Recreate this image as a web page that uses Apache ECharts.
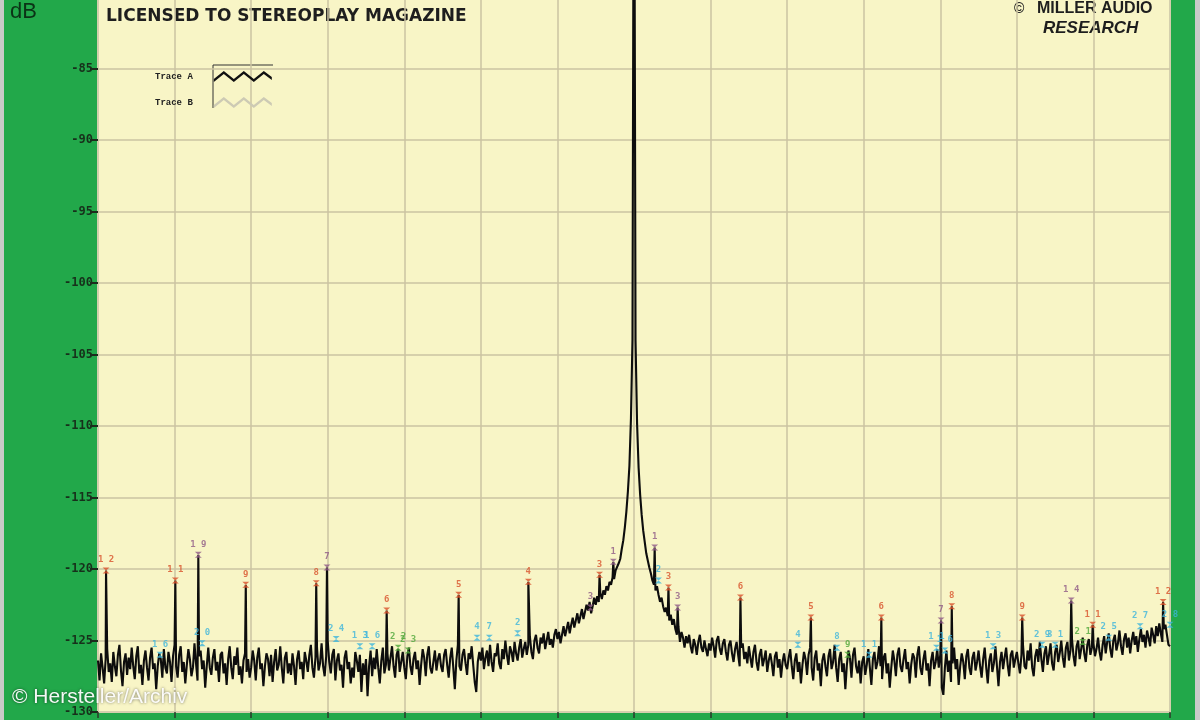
<!DOCTYPE html>
<html>
<head>
<meta charset="utf-8">
<style>
html,body{margin:0;padding:0;background:#c8cac8;}
#chart{width:1200px;height:720px;}
</style>
<script src="https://cdn.jsdelivr.net/npm/echarts@6/dist/echarts.min.js"></script>
</head>
<body>
<div id="chart"></div>
<script>
// ---- data ----
const STEP = 0.02; // spacing of trace samples along the x axis (axis units)
const noise = [
// 0.00 - 0.98
-126.4,-127.8,-125.9,-126.9,-128.0,-126.3,-125.6,-127.2,-126.6,-127.9,-125.8,-126.8,-127.5,-126.0,-125.3,-127.1,-128.2,-126.5,-125.9,-127.4,-126.2,-127.0,-125.5,-126.8,-127.7,
-126.1,-125.4,-127.3,-126.7,-128.1,-126.4,-125.7,-126.9,-127.8,-126.2,-125.5,-127.0,-126.6,-128.4,-126.8,-125.9,-126.3,-127.6,-125.6,-126.9,-127.3,-125.8,-126.5,-127.9,-126.1,
// 1.00 - 1.98
-125.3,-126.8,-127.6,-126.0,-125.4,-127.2,-126.5,-128.0,-126.7,-125.6,-126.3,-127.5,-126.9,-125.2,-126.6,-127.8,-126.1,-125.7,-127.0,-126.4,-128.3,-126.8,-125.5,-126.9,-127.4,
-126.2,-125.6,-127.1,-126.5,-127.9,-126.0,-125.8,-127.3,-126.6,-128.1,-126.3,-125.4,-126.9,-127.7,-126.1,-126.7,-125.5,-127.4,-126.8,-128.0,-126.4,-125.9,-127.2,-126.3,-127.6,
// 2.00 - 2.98
-126.9,-125.7,-126.4,-127.8,-126.2,-125.5,-127.0,-126.6,-128.2,-126.8,-125.9,-126.3,-127.5,-126.0,-127.9,-126.5,-125.6,-127.1,-126.7,-125.4,-126.9,-128.0,-126.2,-125.8,-127.3,
-126.6,-127.4,-125.9,-126.8,-128.1,-126.3,-125.7,-127.0,-126.5,-127.7,-125.8,-126.4,-127.2,-126.0,-125.3,-126.9,-127.6,-126.2,-125.5,-127.1,-126.6,-125.2,-126.8,-127.5,-126.1,
// 3.00 - 3.98
-125.0,-126.5,-127.3,-126.0,-125.6,-127.8,-126.4,-125.9,-127.1,-126.7,-128.3,-126.2,-125.7,-127.0,-126.5,-128.0,-126.9,-127.6,-125.8,-126.4,-127.2,-126.0,-128.6,-126.6,-127.4,
-126.3,-128.9,-126.8,-125.7,-127.5,-126.2,-127.0,-125.6,-126.9,-128.0,-126.4,-125.5,-127.3,-126.7,-125.9,-127.1,-126.2,-125.4,-126.8,-127.6,-126.0,-125.6,-127.2,-126.5,-125.8,
// 4.00 - 4.98
-126.9,-127.7,-126.1,-125.5,-126.8,-127.4,-126.3,-125.8,-127.0,-126.4,-128.1,-126.7,-125.6,-126.2,-127.5,-126.0,-125.4,-126.9,-127.3,-126.5,-125.7,-127.1,-126.3,-125.9,-126.8,
-127.2,-126.0,-125.6,-126.7,-127.6,-126.2,-125.5,-126.9,-128.4,-126.4,-125.3,-126.8,-127.1,-126.0,-125.6,-126.6,-127.4,-125.9,-126.3,-125.4,-126.7,-127.9,-128.6,-126.5,-125.8,
// 5.00 - 5.98
-126.4,-125.5,-127.0,-126.2,-125.7,-126.8,-125.3,-126.5,-127.2,-125.9,-126.1,-125.2,-126.6,-127.0,-125.6,-126.3,-125.0,-126.0,-126.7,-125.4,-125.8,-126.5,-125.1,-125.9,-126.4,
-125.5,-124.9,-126.2,-125.6,-125.1,-126.0,-125.3,-124.7,-125.8,-126.3,-125.0,-124.6,-125.5,-125.9,-124.8,-125.2,-124.5,-125.6,-125.0,-124.4,-125.3,-124.9,-125.5,-124.6,-124.2,
// 6.00 - 6.98
-124.9,-124.4,-125.2,-124.6,-124.0,-124.7,-124.2,-123.7,-124.5,-123.9,-123.4,-124.1,-123.6,-123.1,-123.8,-123.3,-122.8,-123.5,-123.0,-122.5,-122.9,-122.3,-123.1,-122.6,-122.0,
-122.5,-121.9,-122.3,-121.7,-122.1,-121.5,-121.8,-121.2,-121.5,-120.9,-121.1,-120.6,-120.7,-120.1,-120.2,-119.6,-119.3,-118.6,-118.0,-117.1,-116.0,-114.6,-112.8,-109.5,-104.0,
// 7.00 - 7.98
-60.0,-104.0,-109.8,-112.9,-114.8,-116.2,-117.3,-118.1,-118.9,-119.4,-119.9,-120.3,-120.8,-121.1,-121.5,-121.2,-121.8,-122.3,-122.0,-122.6,-123.0,-122.7,-123.3,-123.6,-123.2,
-123.9,-123.5,-124.2,-124.6,-124.0,-125.1,-124.4,-124.8,-125.5,-124.7,-125.2,-124.6,-125.4,-125.9,-124.9,-125.3,-126.0,-125.1,-124.6,-125.5,-125.8,-125.0,-125.6,-126.1,-125.2,
// 8.00 - 8.98
-125.7,-124.8,-125.4,-126.2,-125.0,-124.7,-125.6,-126.0,-125.2,-124.9,-125.8,-126.4,-125.3,-125.0,-125.9,-126.5,-125.6,-125.1,-126.0,-126.8,-125.5,-125.2,-126.3,-125.8,-126.6,
-125.4,-126.2,-126.9,-125.8,-125.3,-126.5,-127.1,-126.0,-125.6,-126.8,-126.3,-125.7,-127.2,-126.4,-125.9,-126.6,-127.5,-126.1,-125.8,-126.9,-126.3,-127.6,-126.5,-125.9,-126.7,
// 9.00 - 9.98
-127.0,-126.2,-125.6,-126.8,-127.7,-126.4,-125.9,-127.2,-126.5,-128.0,-126.7,-125.8,-126.3,-127.4,-126.0,-125.5,-126.9,-127.8,-126.2,-125.7,-127.1,-126.6,-128.2,-126.4,-125.9,
-126.8,-127.5,-126.1,-125.6,-127.0,-126.5,-125.3,-126.9,-127.9,-126.3,-125.8,-127.2,-126.6,-128.4,-126.7,-125.7,-126.2,-127.6,-126.0,-125.5,-126.8,-127.3,-126.4,-128.0,-126.5,
// 10.00 - 10.98
-126.1,-127.4,-126.7,-125.6,-126.9,-128.1,-126.3,-125.8,-127.0,-126.5,-125.4,-126.8,-127.7,-126.2,-125.9,-127.3,-126.6,-128.3,-126.9,-125.7,-126.4,-127.5,-126.0,-125.5,-126.8,
-127.2,-126.3,-125.6,-127.0,-126.5,-128.0,-126.7,-125.9,-126.2,-127.6,-126.0,-125.4,-126.9,-127.4,-126.3,-125.7,-127.1,-126.6,-128.2,-126.4,-125.8,-127.0,-126.5,-125.6,-126.9,
// 11.00 - 11.98
-126.0,-128.3,-128.8,-126.9,-125.7,-127.2,-126.4,-127.9,-126.6,-125.5,-127.0,-126.3,-128.1,-126.8,-125.9,-126.5,-127.7,-126.1,-125.6,-126.9,-127.4,-126.2,-125.8,-127.1,-126.5,
-125.7,-126.8,-127.6,-126.3,-125.5,-126.9,-128.0,-126.4,-125.9,-127.2,-126.6,-125.4,-126.8,-128.2,-126.5,-125.8,-127.0,-126.2,-125.5,-126.7,-127.5,-126.0,-125.7,-126.9,-126.3,
// 12.00 - 12.98
-125.8,-126.6,-127.3,-126.0,-125.3,-126.8,-127.0,-125.7,-126.4,-125.2,-126.9,-127.5,-126.1,-125.6,-126.5,-125.1,-126.3,-127.2,-125.9,-125.4,-126.7,-126.0,-125.2,-126.6,-127.1,
-125.8,-125.3,-126.5,-125.9,-125.0,-126.2,-126.9,-125.5,-125.1,-126.4,-125.7,-124.9,-126.1,-126.8,-125.4,-125.0,-126.3,-125.6,-124.8,-125.9,-126.5,-125.3,-124.9,-126.0,-125.5,
// 13.00 - 13.98
-125.2,-126.1,-125.6,-124.8,-125.8,-126.4,-125.3,-124.7,-125.9,-125.1,-124.5,-125.6,-126.2,-125.0,-124.6,-125.7,-125.2,-124.3,-125.4,-126.0,-124.9,-124.5,-125.5,-124.8,-125.9,
-125.0,-124.4,-125.3,-124.7,-125.8,-124.9,-124.2,-125.1,-124.6,-125.5,-124.3,-124.8,-125.4,-124.1,-124.6,-125.2,-124.0,-124.7,-123.8,-124.5,-125.1,-124.2,-123.9,-124.6,-125.3,
// 14.00
-125.4
];

// discrete spurs (position in axis units, level in dB)
const spurX = [0.105, 1.01, 1.31, 1.93, 2.85, 2.99, 3.77, 4.71, 5.62, 6.43, 6.55, 6.73, 7.27, 7.45, 7.57, 8.39, 9.31, 10.23, 11.01, 11.15, 12.07, 12.71, 12.99, 13.91];
const spurY = [-120.1, -120.8, -119.0, -121.1, -121.0, -119.9, -122.9, -121.8, -120.9, -122.7, -120.4, -119.5, -118.5, -121.3, -122.7, -122.0, -123.4, -123.4, -123.6, -122.6, -123.4, -122.2, -123.9, -122.3];

// harmonic / intermod markers
const markX    = [0.105, 1.01, 1.93, 2.85, 3.77, 4.71, 5.62, 6.55, 7.45, 8.39, 9.31, 10.23, 11.15, 12.07, 12.99, 13.91,
                  1.31, 2.99, 6.43, 6.73, 7.27, 7.57, 11.01, 12.71,
                  0.81, 1.36, 3.11, 3.42, 3.58, 4.95, 5.11, 5.48, 7.32, 9.14, 9.65, 10.07, 10.95, 11.06, 11.69, 12.33, 12.50, 13.20, 13.61, 14.0,
                  3.92, 4.05, 9.79, 12.86];
const markY    = [-120.1, -120.8, -121.1, -121.0, -122.9, -121.8, -120.9, -120.4, -121.3, -122.0, -123.4, -123.4, -122.6, -123.4, -123.9, -122.3,
                  -119.0, -119.9, -122.7, -119.5, -118.5, -122.7, -123.6, -122.2,
                  -126.0, -125.2, -124.9, -125.4, -125.4, -124.8, -124.8, -124.5, -120.8, -125.3, -125.5, -126.0, -125.5, -125.7, -125.4, -125.3, -125.3, -124.8, -124.0, -123.9,
                  -125.5, -125.7, -126.0, -125.1];
const markText = ["12","11","9","8","6","5","4","3","3","6","5","6","8","9","11","12",
                  "19","7","3","1","1","3","7","14",
                  "16","20","24","13","16","4","7","2","2","4","8","11","11","16","13","29","31","25","27","28",
                  "22","23","9","21"];
const markKind = ["r","r","r","r","r","r","r","r","r","r","r","r","r","r","r","r",
                  "p","p","p","p","p","p","p","p",
                  "c","c","c","c","c","c","c","c","c","c","c","c","c","c","c","c","c","c","c","c",
                  "g","g","g","g"];

// ---- build ----
const kindColor = {r:'#d8512b', p:'#8e5a86', c:'#3db5dc', g:'#4fa83a'};
const trace = noise.map((v, i) => [+(i * STEP).toFixed(2), v]);
spurX.forEach((x, i) => trace.push([x, spurY[i]]));
trace.sort((a, b) => a[0] - b[0]);

const markers = markX.map((x, i) => ({
  value: [x, markY[i]],
  itemStyle: {color: kindColor[markKind[i]]},
  label: {color: kindColor[markKind[i]], formatter: markText[i].split('').join(' ')}
}));

const chart = echarts.init(document.getElementById('chart'), null, {renderer: 'canvas'});
chart.setOption({
  animation: false,
  backgroundColor: '#22a84a',
  grid: {
    left: 98, right: 30, top: -3, bottom: 8,
    containLabel: false, outerBoundsMode: 'none',
    show: true, backgroundColor: '#f8f5c6', borderColor: '#eef3cf', borderWidth: 2
  },
  legend: {
    data: ['Trace A', 'Trace B'],
    orient: 'vertical', left: 150, top: 66, align: 'right',
    itemWidth: 58, itemHeight: 11, itemGap: 15,
    icon: 'path://M0,9 L10,1 L20,9 L30,1 L40,9 L50,1 L58,7 L58,10 L50,4 L40,12 L30,4 L20,12 L10,4 L0,12 Z',
    textStyle: {fontFamily: 'Liberation Mono', fontWeight: 'bold', fontSize: 9, color: '#222', padding: [0, 16, 0, 0]}
  },
  xAxis: {
    type: 'value', min: 0, max: 14, interval: 1,
    axisLine: {show: false},
    axisTick: {show: true, length: 6, lineStyle: {color: '#2a3a2a', width: 1.5}},
    axisLabel: {show: false},
    splitLine: {show: true, lineStyle: {color: '#cbc3a2', width: 1.5}}
  },
  yAxis: {
    type: 'value', min: -130, max: -80, interval: 5,
    axisLine: {show: false},
    axisTick: {show: true, length: 8, lineStyle: {color: '#1d2a1d', width: 2}},
    axisLabel: {margin: 5, fontFamily: 'DejaVu Sans Mono', fontWeight: 'bold', fontSize: 12, color: '#17301b'},
    splitLine: {show: true, lineStyle: {color: '#cbc3a2', width: 1.5}}
  },
  graphic: [
    {type: 'rect', left: 0, top: 0, shape: {width: 4, height: 720}, style: {fill: '#c8cac8'}, silent: true},
    {type: 'rect', right: 0, top: 0, shape: {width: 5, height: 720}, style: {fill: '#c8cac8'}, silent: true},
    {type: 'text', left: 10, top: 1, style: {text: 'dB', font: '22px "Liberation Sans"', fill: '#0b3316'}},
    {type: 'text', left: 106, top: 8, style: {text: 'LICENSED TO STEREOPLAY MAGAZINE', font: 'bold 17px "DejaVu Sans"', fill: '#1e1e1e'}},
    {type: 'text', left: 1014, top: 2, style: {text: '©', font: 'bold 14px "Liberation Sans"', fill: '#222'}},
    {type: 'text', left: 1037, top: 1, style: {text: 'MILLER AUDIO', font: 'bold 16px "Liberation Sans"', fill: '#1e1e1e'}},
    {type: 'text', left: 1043, top: 20, style: {text: 'RESEARCH', font: 'italic bold 17px "Liberation Sans"', fill: '#1e1e1e'}},
    {type: 'line', shape: {x1: 213, y1: 65, x2: 273, y2: 65}, style: {stroke: '#333', lineWidth: 1}},
    {type: 'line', shape: {x1: 213, y1: 65, x2: 213, y2: 108}, style: {stroke: '#333', lineWidth: 1}},
    {type: 'text', left: 12, top: 687, z: 100, style: {text: '© Hersteller/Archiv', font: '21px "Liberation Sans"', fill: 'rgba(255,255,255,0.95)', textShadowColor: 'rgba(0,0,0,0.6)', textShadowBlur: 3}}
  ],
  series: [
    {
      name: 'Trace A', type: 'line', data: trace, color: '#111',
      showSymbol: false, symbol: 'none', clip: true,
      lineStyle: {color: '#0d0d0d', width: 2.1}, z: 3
    },
    {
      name: 'Trace B', type: 'line', data: [], color: '#cdcab4',
      showSymbol: false, lineStyle: {color: '#cdcab4'}
    },
    {
      name: 'markers', type: 'scatter', data: markers, z: 5,
      symbol: 'path://M0,0 L10,0 L0,10 L10,10 Z', symbolSize: [7, 6],
      label: {show: true, position: 'top', distance: 3, fontFamily: 'DejaVu Sans Mono', fontWeight: 'bold', fontSize: 9}
    }
  ]
});
</script>
</body>
</html>
